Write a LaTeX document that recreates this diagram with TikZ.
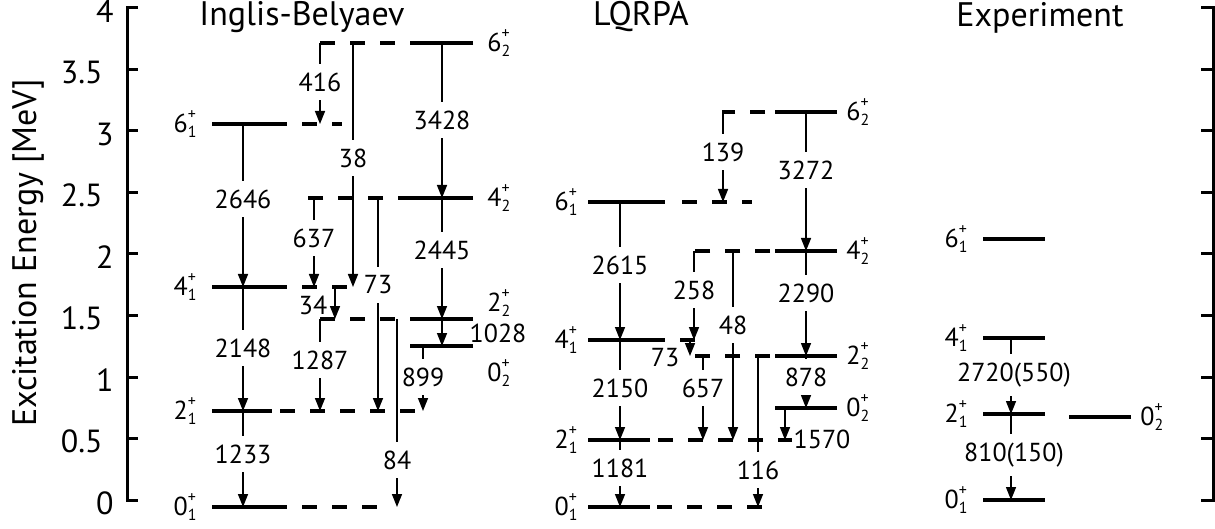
\documentclass[tikz,border=0pt]{standalone}
\usepackage{fontspec}
\setmainfont{PT Sans}
\usepackage{tikz}
\usetikzlibrary{arrows.meta,positioning}
\newcommand{\numfont}{\fontsize{13}{15}\selectfont}
\newcommand{\idxfont}{\fontsize{8}{8}\selectfont}
\newcommand{\titfont}{\fontsize{17}{20}\selectfont}
\newcommand{\tkfont}{\fontsize{16}{19}\selectfont}
\newcommand{\axfont}{\fontsize{17}{20}\selectfont}
\newcommand{\jp}[2]{#1\rlap{\raisebox{6.5pt}{\idxfont +}}\raisebox{-2.8pt}{\idxfont #2}}
\tikzset{
  lev/.style={line width=2pt},
  levd/.style={line width=2pt,dash pattern=on 7.5pt off 7.5pt},
  tr/.style={-{Triangle[length=6.5pt,width=5pt]},line width=0.75pt},
  num/.style={font=\numfont,fill=white,inner xsep=1pt,inner ysep=4.5pt},
  jl/.style={font=\numfont,inner sep=1pt},
  axl/.style={line width=1.5pt}
}
% level: name, y, solid from, solid to, dashes from, dashes to
\newcommand{\lvl}[6]{\coordinate (#1) at (#3,#2);
  \draw[lev] (#3,#2)--(#4,#2);
  \draw[levd] (#5,#2)--(#6,#2);}
% transition: [label opts], x, from level, to level, label, label y
\newcommand{\trn}[6][]{\draw[tr] (#2,0 |- #3)--(#2,0 |- #4);
  \node[num,#1] (#3-#4) at (#2,#6) {#5};}

\begin{document}
\begin{tikzpicture}[x=0.5pt,y=-0.5pt]
\useasboundingbox (0,0) rectangle (1215,529);
% axes
\draw[axl] (138,8)--(127,8)--(127,500)--(138,500);
\draw[axl] (1201,8)--(1213,8)--(1213,500)--(1201,500);
\foreach \k in {1,...,7}{
  \draw[axl] (127,{500-61.5*\k})--(138,{500-61.5*\k});
  \draw[axl] (1201,{500-61.5*\k})--(1213,{500-61.5*\k});}
\foreach \k/\t in {0/0,2/1,4/2,6/3,8/4}
  \node[anchor=east,font=\tkfont,inner sep=0pt] (tk\k) at (114,{503-61.5*\k}) {\t};
\foreach \k/\t in {1/0.5,3/1.5,5/2.5,7/3.5}
  \node[anchor=east,font=\tkfont,inner sep=0pt] (tk\k) at (103,{503-61.5*\k}) {\t};
\node[rotate=90,font=\axfont] (etitle) at (28,253) {Excitation Energy [MeV]};
% titles
\node[font=\titfont] (ibtitle) at (302,17) {Inglis-Belyaev};
\node[font=\titfont] (lqtitle) at (641,17) {LQRPA};
\node[font=\titfont] (extitle) at (1040,18) {Experiment};

% Inglis-Belyaev
\lvl{ib01}{507}{212}{287}{302}{380}
\lvl{ib21}{411}{212}{272}{280}{424}
\lvl{ib41}{287}{212}{287}{302}{347}
\lvl{ib61}{124}{212}{287}{302}{342}
\lvl{ib02}{346}{473}{410}{410}{410}
\lvl{ib22}{319}{473}{410}{395}{320}
\lvl{ib42}{198}{473}{398}{383}{308}
\lvl{ib62}{43}{473}{410}{395}{320}
\foreach \n/\j in {ib01/0,ib21/2,ib41/4,ib61/6}
  \node[jl,left=6.5pt of \n] (\n t) {\jp{\j}{1}};
\node[jl,right=6pt of ib62] (ib62t) {\jp{6}{2}};
\node[jl,right=6pt of ib42] (ib42t) {\jp{4}{2}};
\node[jl,right=6pt of ib22,yshift=8pt] (ib22t) {\jp{2}{2}};
\node[jl,right=6pt of ib02,yshift=-13.5pt] (ib02t) {\jp{0}{2}};
\trn{243}{ib61}{ib41}{2646}{199}
\trn{243}{ib41}{ib21}{2148}{348}
\trn{243}{ib21}{ib01}{1233}{454}
\trn{320}{ib62}{ib61}{416}{82}
\trn{353}{ib62}{ib41}{38}{158}
\trn{314}{ib42}{ib41}{637}{238}
\trn{378}{ib42}{ib21}{73}{285}
\trn[fill=none,xshift=-11pt]{335}{ib41}{ib22}{34}{305}
\trn{320}{ib22}{ib21}{1287}{360}
\trn{397}{ib22}{ib01}{84}{460}
\trn{423}{ib02}{ib21}{899}{377}
\trn{442}{ib62}{ib42}{3428}{120}
\trn{442}{ib42}{ib22}{2445}{250}
\trn[fill=none,xshift=28pt]{442}{ib22}{ib02}{1028}{333}

% LQRPA
\lvl{lq01}{507}{588}{650}{657}{765}
\lvl{lq21}{440}{588}{650}{658}{792}
\lvl{lq41}{340}{588}{665}{680}{695}
\lvl{lq61}{202}{588}{665}{682}{752}
\lvl{lq02}{408}{837}{775}{775}{775}
\lvl{lq22}{356}{837}{775}{770}{693}
\lvl{lq42}{251}{837}{775}{770}{693}
\lvl{lq62}{112}{837}{775}{765}{722}
\foreach \n/\j in {lq01/0,lq21/2,lq41/4,lq61/6}
  \node[jl,left=4pt of \n] (\n t) {\jp{\j}{1}};
\foreach \n/\j in {lq02/0,lq22/2,lq42/4,lq62/6}
  \node[jl,right=3.5pt of \n] (\n t) {\jp{\j}{2}};
\trn{620}{lq61}{lq41}{2615}{265}
\trn{620}{lq41}{lq21}{2150}{388}
\trn{620}{lq21}{lq01}{1181}{468}
\trn{723}{lq62}{lq61}{139}{152}
\trn{806}{lq62}{lq42}{3272}{170}
\trn{694}{lq42}{lq41}{258}{290}
\trn[fill=none,xshift=-12.5pt]{690}{lq41}{lq22}{73}{358}
\trn{733}{lq42}{lq21}{48}{325}
\trn{703}{lq22}{lq21}{657}{388}
\trn{758}{lq22}{lq01}{116}{470}
\trn{806}{lq42}{lq22}{2290}{293}
\trn{806}{lq22}{lq02}{878}{377}
\trn[fill=none,xshift=18.5pt]{785}{lq02}{lq21}{1570}{439}

% Experiment
\lvl{ex01}{500}{983}{1045}{1045}{1045}
\lvl{ex21}{414}{983}{1045}{1045}{1045}
\lvl{ex41}{338}{983}{1045}{1045}{1045}
\lvl{ex61}{239}{983}{1045}{1045}{1045}
\lvl{ex02}{417}{1131}{1069}{1069}{1069}
\foreach \n/\j in {ex01/0,ex21/2,ex41/4,ex61/6}
  \node[jl,left=6.5pt of \n] (\n t) {\jp{\j}{1}};
\node[jl,right=3.5pt of ex02] (ex02t) {\jp{0}{2}};
\trn[xshift=1.5pt]{1011}{ex41}{ex21}{2720(550)}{375}
\trn[xshift=1.5pt]{1011}{ex21}{ex01}{810(150)}{455}
\end{tikzpicture}
\end{document}
